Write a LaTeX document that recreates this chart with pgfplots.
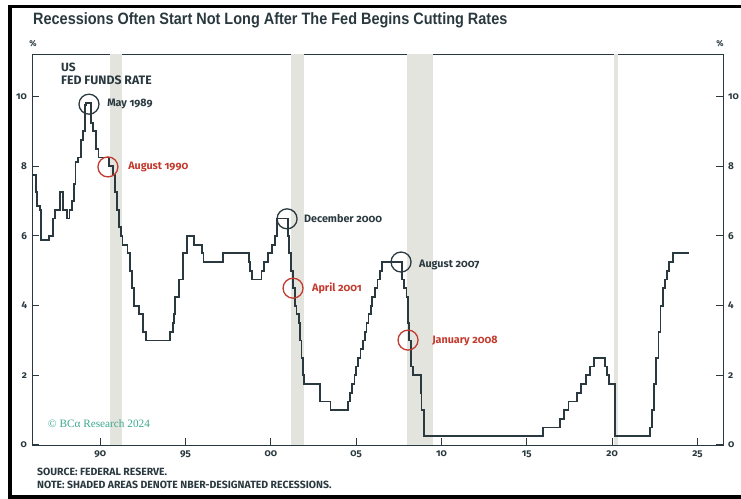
\documentclass[border=0pt]{standalone}
\usepackage{pgfplots}
\pgfplotsset{compat=1.18}
\usepackage{fontspec}
\setmainfont{Fira Sans}[Numbers=OldStyle]
\newfontfamily\titlefont[FakeStretch=0.88]{Liberation Sans}
\newfontfamily\bcafont{Liberation Serif}

\definecolor{ink}{HTML}{2A393F}
\definecolor{redc}{HTML}{C23B2E}
\definecolor{shade}{HTML}{E4E4DE}
\definecolor{bcagreen}{HTML}{3DA98C}

% recession band from x=#1 to x=#2
\newcommand{\recession}[2]{%
  \addplot[draw=none, fill=shade, forget plot]
    coordinates {(#1,0) (#1,11.22) (#2,11.22) (#2,0)} -- cycle;}

\begin{document}
\begin{tikzpicture}
\path[use as bounding box] (0,0) rectangle (741bp,499bp);

% outer frame (left, top, bottom)
\draw[black, line width=3.3bp] (10bp,0) -- (10bp,492.3bp);
\draw[black, line width=3.3bp] (8.4bp,492.3bp) -- (741bp,492.3bp);
\draw[black, line width=4bp] (8.4bp,2bp) -- (741bp,2bp);

\node[anchor=base west, text=ink, inner sep=0pt,
  font=\titlefont\bfseries\fontsize{16.5}{18}\selectfont]
  at (33bp,474bp) {Recessions Often Start Not Long After The Fed Begins Cutting Rates};

\node[text=ink, font=\bfseries\fontsize{8.5}{9}\selectfont] at (33bp,455bp) {\%};
\node[text=ink, font=\bfseries\fontsize{8.5}{9}\selectfont] at (720bp,455bp) {\%};

\begin{axis}[
  at={(32bp,54bp)}, anchor=south west,
  scale only axis, width=691bp, height=391bp,
  xmin=1986, xmax=2026.5, ymin=0, ymax=11.22,
  axis line style={draw=ink, line width=0.8bp},
  xtick={1990,1995,...,2025},
  xticklabels={90,95,00,05,10,15,20,25},
  ytick={0,2,4,6,8,10},
  yticklabels={0,2,4,6,8,10},
  xtick pos=bottom, ytick pos=both,
  tick align=inside, major tick length=7bp,
  tick style={draw=ink, line width=1bp},
  ticklabel style={text=ink, font=\bfseries\fontsize{10}{11}\selectfont},
  xticklabel style={yshift=-2bp},
  yticklabel style={xshift=-1.5bp},
  clip=false,
]
\recession{1990.58}{1991.25}
\recession{2001.17}{2001.92}
\recession{2007.96}{2009.50}
\recession{2020.10}{2020.35}

% fed funds target rate (upper bound), value holds until the next change
\addplot[const plot, color=ink, line width=1.8bp] coordinates {
(1986.00,7.75) (1986.25,7.25) (1986.30,6.85) (1986.45,6.75) (1986.52,5.875)
(1987.00,6.00) (1987.25,6.50) (1987.35,6.75) (1987.62,7.25) (1987.80,6.75)
(1988.05,6.50) (1988.20,6.75) (1988.35,7.00) (1988.45,7.50) (1988.55,8.125)
(1988.70,8.25) (1988.85,8.75) (1989.00,9.00) (1989.12,9.75) (1989.18,9.81)
(1989.45,9.25) (1989.58,9.00) (1989.75,8.50) (1989.90,8.25) (1990.50,8.00)
(1990.75,7.75) (1990.85,7.25) (1991.00,6.75) (1991.10,6.25) (1991.20,6.00)
(1991.30,5.75) (1991.60,5.50) (1991.75,5.00) (1991.85,4.50) (1992.00,4.00)
(1992.25,3.75) (1992.50,3.25) (1992.70,3.00) (1994.10,3.25) (1994.25,3.50)
(1994.33,3.75) (1994.40,4.25) (1994.60,4.75) (1994.87,5.50) (1995.10,6.00)
(1995.50,5.75) (1995.95,5.50) (1996.05,5.25) (1997.20,5.50) (1998.72,5.25)
(1998.80,5.00) (1998.88,4.75) (1999.45,5.00) (1999.62,5.25) (1999.85,5.50)
(2000.08,5.75) (2000.22,6.00) (2000.38,6.50) (2001.00,6.00) (2001.08,5.50)
(2001.20,5.00) (2001.30,4.50) (2001.40,4.00) (2001.50,3.75) (2001.65,3.50)
(2001.72,3.00) (2001.80,2.50) (2001.87,2.00) (2001.95,1.75) (2002.87,1.25)
(2003.50,1.00) (2004.50,1.25) (2004.65,1.50) (2004.75,1.75) (2004.90,2.00)
(2004.97,2.25) (2005.10,2.50) (2005.25,2.75) (2005.40,3.00) (2005.50,3.25)
(2005.60,3.50) (2005.72,3.75) (2005.85,4.00) (2005.95,4.25) (2006.10,4.50)
(2006.25,4.75) (2006.40,5.00) (2006.50,5.25) (2007.70,4.75) (2007.80,4.50)
(2007.95,4.25) (2008.05,3.50) (2008.08,3.00) (2008.20,2.25) (2008.33,2.00)
(2008.78,1.50) (2008.83,1.00) (2008.96,0.25) (2015.96,0.50) (2016.96,0.75)
(2017.20,1.00) (2017.45,1.25) (2017.96,1.50) (2018.20,1.75) (2018.45,2.00)
(2018.72,2.25) (2018.96,2.50) (2019.58,2.25) (2019.70,2.00) (2019.82,1.75)
(2020.17,0.25) (2022.20,0.50) (2022.35,1.00) (2022.45,1.75) (2022.55,2.50)
(2022.72,3.25) (2022.84,4.00) (2022.96,4.50) (2023.10,4.75) (2023.20,5.00)
(2023.35,5.25) (2023.55,5.50) (2024.50,5.50)
};

% turning points in the rate
\addplot[only marks, mark=o, mark size=10bp,
  mark options={draw=ink, line width=1.3bp}]
  coordinates {(1989.34,9.78) (2000.95,6.49) (2007.63,5.25)};
\addplot[only marks, mark=o, mark size=10bp,
  mark options={draw=redc, line width=1.3bp}]
  coordinates {(1990.45,7.98) (2001.30,4.50) (2008.04,3.01)};

\begin{scope}[font=\bfseries\fontsize{10.8}{12}\selectfont, inner sep=0pt]
\node[anchor=west, text=ink] at (axis cs:1990.40,9.78) {May 1989};
\node[anchor=west, text=redc] at (axis cs:1991.63,7.98) {August 1990};
\node[anchor=west, text=ink] at (axis cs:2001.94,6.49) {December 2000};
\node[anchor=west, text=redc] at (axis cs:2002.41,4.50) {April 2001};
\node[anchor=west, text=ink] at (axis cs:2008.68,5.16) {August 2007};
\node[anchor=west, text=redc] at (axis cs:2009.45,2.99) {January 2008};
\end{scope}
\end{axis}

% right-hand tick labels
\begin{axis}[
  at={(32bp,54bp)}, anchor=south west,
  scale only axis, width=691bp, height=391bp,
  xmin=1986, xmax=2026.5, ymin=0, ymax=11.22,
  hide x axis, axis y line*=right,
  y axis line style={draw=none},
  ytick={0,2,4,6,8,10},
  yticklabels={0,2,4,6,8,10},
  major tick length=0pt,
  ticklabel style={text=ink, font=\bfseries\fontsize{10}{11}\selectfont},
  yticklabel style={xshift=1.5bp},
]
\addplot[draw=none] coordinates {(2000,1)};
\end{axis}

\node[anchor=base west, text=ink, inner sep=0pt,
  font=\bfseries\fontsize{12}{13}\selectfont] at (61bp,427bp) {US};
\node[anchor=base west, text=ink, inner sep=0pt,
  font=\bfseries\fontsize{12.3}{13}\selectfont] at (61bp,414bp) {FED FUNDS RATE};

\node[anchor=base west, text=bcagreen, inner sep=0pt,
  font=\bcafont\fontsize{11.3}{12}\selectfont] at (48bp,71bp) {© BCα Research 2024};

\node[anchor=base west, text=ink, inner sep=0pt,
  font=\bfseries\fontsize{10.5}{11}\selectfont] at (37bp,24bp) {SOURCE: FEDERAL RESERVE.};
\node[anchor=base west, text=ink, inner sep=0pt,
  font=\bfseries\fontsize{10.5}{11}\selectfont] at (37bp,11bp) {NOTE: SHADED AREAS DENOTE NBER-DESIGNATED RECESSIONS.};
\end{tikzpicture}
\end{document}
